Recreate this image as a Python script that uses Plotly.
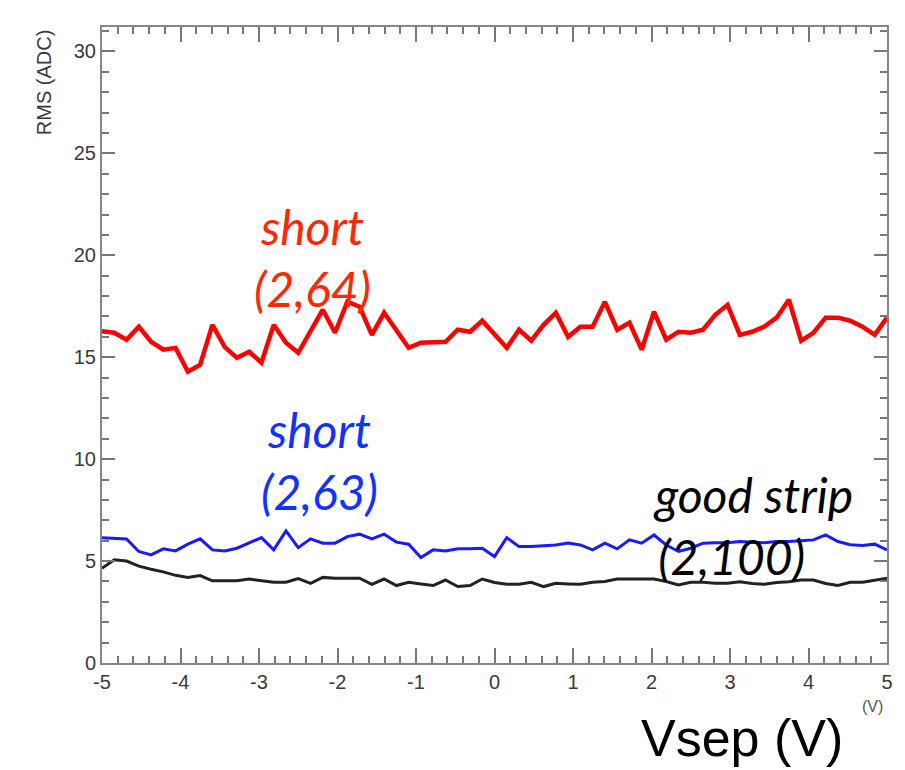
import numpy as np
import plotly.graph_objects as go

# Sampling grid in Vsep (V): 65 points from -5 to 5
vsep = np.linspace(-5, 5, 65)

rms_short_2_64 = [16.27, 16.2, 15.86, 16.5, 15.76, 15.37, 15.46, 14.29, 14.63, 16.59,
                  15.51, 14.97, 15.27, 14.73, 16.59, 15.71, 15.22, 16.3, 17.33, 16.2,
                  17.72, 17.48, 16.1, 17.18, 16.35, 15.46, 15.71, 15.76, 15.76, 16.35,
                  16.25, 16.79, 16.1, 15.46, 16.35, 15.81, 16.59, 17.18, 16.0, 16.5,
                  16.5, 17.72, 16.35, 16.69, 15.37, 17.23, 15.86, 16.25, 16.2, 16.35,
                  17.08, 17.57, 16.1, 16.25, 16.5, 16.94, 17.82, 15.81, 16.2, 16.94,
                  16.94, 16.79, 16.5, 16.1, 16.94]

rms_short_2_63 = [6.15, 6.12, 6.08, 5.47, 5.3, 5.6, 5.5, 5.83, 6.09, 5.55,
                  5.5, 5.63, 5.9, 6.15, 5.55, 6.48, 5.66, 6.09, 5.88, 5.88,
                  6.2, 6.32, 6.09, 6.32, 5.93, 5.83, 5.17, 5.55, 5.5, 5.6,
                  5.6, 5.63, 5.22, 6.15, 5.71, 5.71, 5.75, 5.79, 5.88, 5.79,
                  5.55, 5.88, 5.6, 6.04, 5.88, 6.28, 5.79, 5.47, 5.63, 5.88,
                  5.9, 5.9, 5.96, 5.92, 5.9, 5.96, 5.96, 6.0, 6.04, 6.28,
                  5.96, 5.8, 5.76, 5.83, 5.55]

rms_good_2_100 = [4.65, 5.06, 5.0, 4.75, 4.6, 4.47, 4.3, 4.19, 4.29, 4.03,
                  4.03, 4.03, 4.12, 4.05, 3.96, 3.96, 4.14, 3.91, 4.2, 4.16,
                  4.16, 4.16, 3.86, 4.12, 3.8, 3.96, 3.88, 3.8, 4.07, 3.75,
                  3.8, 4.12, 3.95, 3.86, 3.86, 3.96, 3.75, 3.91, 3.88, 3.86,
                  3.96, 4.0, 4.12, 4.12, 4.12, 4.12, 4.0, 3.83, 3.96, 3.96,
                  3.91, 3.91, 3.99, 3.9, 3.86, 3.95, 3.99, 4.07, 4.07, 3.9,
                  3.8, 3.96, 3.96, 4.05, 4.16]

x_ticks = [-5, -4, -3, -2, -1, 0, 1, 2, 3, 4, 5]
x_tick_text = ["-5", "-4", "-3", "-2", "-1", "0", "1", "2", "3", "4", "5"]
y_ticks = [0, 5, 10, 15, 20, 25, 30]
y_tick_text = ["0", "5", "10", "15", "20", "25", "30"]

fig = go.Figure()
fig.add_trace(go.Scatter(x=vsep, y=rms_short_2_64, mode="lines",
                         line=dict(color="#ff0000", width=4.5), showlegend=False))
fig.add_trace(go.Scatter(x=vsep, y=rms_short_2_63, mode="lines",
                         line=dict(color="#1a1aff", width=3), showlegend=False))
fig.add_trace(go.Scatter(x=vsep, y=rms_good_2_100, mode="lines",
                         line=dict(color="#222222", width=3), showlegend=False))

axis_common = dict(
    showgrid=False, zeroline=False, showline=True, linecolor="#888888", linewidth=2,
    mirror="allticks", ticks="inside", tickcolor="#777777", tickwidth=1.5,
    tickfont=dict(family="Liberation Sans, Arial", size=20, color="#3a3a3a"),
)

fig.update_xaxes(range=[-5, 5], tickvals=x_ticks, ticktext=x_tick_text, ticklen=15,
                 minor=dict(dtick=0.2, ticklen=7, tickcolor="#777777", ticks="inside", tickwidth=1.5),
                 **axis_common)
fig.update_yaxes(range=[0, 31.2], tickvals=y_ticks, ticktext=y_tick_text, ticklen=13,
                 minor=dict(dtick=1, ticklen=7, tickcolor="#777777", ticks="inside", tickwidth=1.5),
                 **axis_common)

label_font = "Lato, Open Sans, sans-serif"
red_txt = "rgb(255,40,0)"
blue_txt = "rgb(20,50,255)"
ann = [
    dict(text="<i>short<br>(2,64)</i>", x=-2.32, y=19.9, color=red_txt),
    dict(text="<i>short<br>(2,63)</i>", x=-2.23, y=9.95, color=blue_txt),
    dict(text="<i>good strip<br>(2,100)&nbsp;&nbsp;&nbsp;&nbsp;</i>", x=3.29, y=6.75, color="#000000"),
]
for a in ann:
    fig.add_annotation(x=a["x"], y=a["y"], xref="x", yref="y", text=a["text"],
                       showarrow=False, xanchor="center", yanchor="middle", align="center",
                       font=dict(family=label_font, size=48, color=a["color"]))

fig.add_annotation(text="RMS (ADC)", xref="paper", yref="paper", x=-0.0736, y=1.0,
                   textangle=-90, showarrow=False, xanchor="center", yanchor="top",
                   font=dict(family="Liberation Sans, Arial", size=20, color="#3a3a3a"))
fig.add_annotation(text="(V)", xref="paper", yref="paper", x=0.982, y=-0.069,
                   showarrow=False, xanchor="center", yanchor="middle",
                   font=dict(family="Liberation Sans, Arial", size=16, color="#555555"))
fig.add_annotation(text="Vsep (V)", xref="paper", yref="paper", x=0.815, y=-0.166,
                   showarrow=False, xanchor="center", yanchor="bottom",
                   font=dict(family="Liberation Sans, Arial", size=52, color="#000000"))

fig.update_layout(
    width=905, height=770,
    margin=dict(l=102, r=15, t=27, b=107),
    paper_bgcolor="white", plot_bgcolor="white",
)

fig.write_html("out.html")
